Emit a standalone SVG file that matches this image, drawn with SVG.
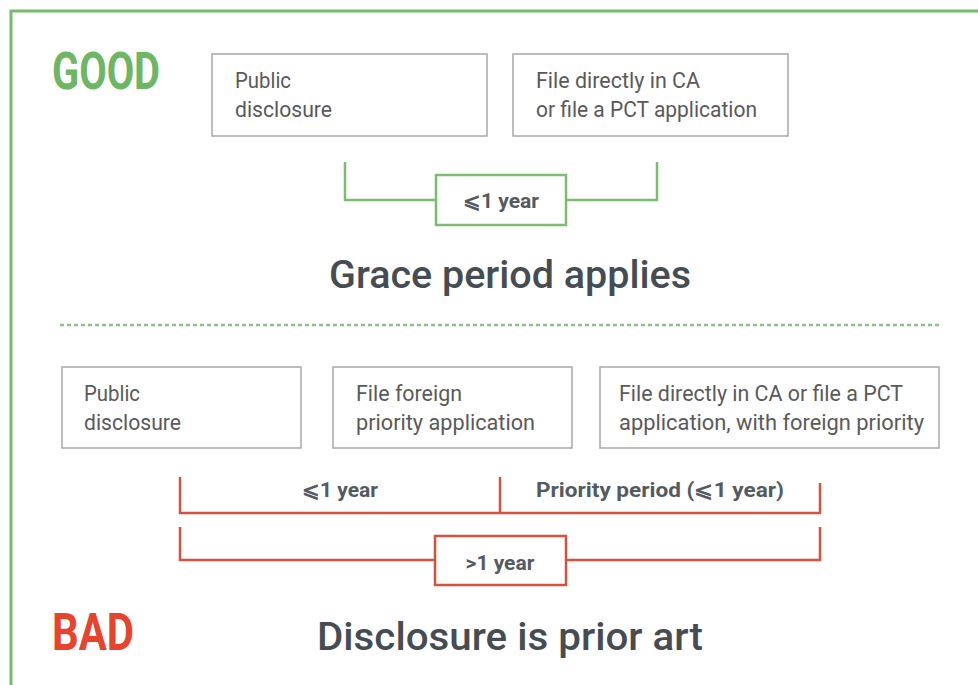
<svg xmlns="http://www.w3.org/2000/svg" width="978" height="685" viewBox="0 0 978 685">
<style>
.box{fill:#fff;stroke:#a8a8a8;stroke-width:1.5}
.bt{font-family:Roboto,"Liberation Sans",sans-serif;font-size:22px;fill:#5a5a5a}
.g{fill:none;stroke:#7cbd72;stroke-width:2.5}
.r{fill:none;stroke:#d4523f;stroke-width:2.5}
.lab{font-family:Roboto,"Liberation Sans",sans-serif;font-size:21px;font-weight:bold;fill:#545b60}
.big{font-family:Roboto,"Liberation Sans",sans-serif;font-size:38px;font-weight:500;fill:#454d53}
.tag{font-family:Roboto,"Liberation Sans",sans-serif;font-size:52px;font-weight:bold}
</style>
<rect x="0" y="0" width="978" height="685" fill="#fff"/>
<rect x="11" y="11" width="1000" height="700" fill="none" stroke="#77bb6f" stroke-width="3"/>
<g id="good-label"><text class="tag" x="52" y="89" fill="#6cb664" textLength="108" lengthAdjust="spacingAndGlyphs">GOOD</text></g>
<g id="g-disclosure"><rect class="box" x="212" y="54" width="275" height="82"/>
<text class="bt" x="235" y="88" textLength="56" lengthAdjust="spacingAndGlyphs">Public</text>
<text class="bt" x="235" y="117" textLength="97" lengthAdjust="spacingAndGlyphs">disclosure</text></g>
<g id="g-file"><rect class="box" x="513" y="54" width="275" height="82"/>
<text class="bt" x="536" y="88" textLength="164" lengthAdjust="spacingAndGlyphs">File directly in CA</text>
<text class="bt" x="536" y="117" textLength="221" lengthAdjust="spacingAndGlyphs">or file a PCT application</text></g>
<g id="connectors">
<path class="g" d="M345 162V200H436M566 200H657V162"/>
<path class="r" d="M180 477V513H820V483M500 477V513"/>
<path class="r" d="M180 527V560H435M566 560H820V527"/>
<line x1="60" y1="325" x2="940" y2="325" stroke="#8fc086" stroke-width="2.5" stroke-dasharray="4 3"/>
</g>
<g id="g-period"><rect x="436" y="175" width="130" height="50" fill="#fff" stroke="#7cbd72" stroke-width="2.5"/>
<text class="lab" x="501" y="208" text-anchor="middle">⩽1 year</text></g>
<g id="good-result"><text class="big" x="510" y="288" text-anchor="middle" textLength="362" lengthAdjust="spacingAndGlyphs">Grace period applies</text></g>
<g id="b-disclosure"><rect class="box" x="62" y="367" width="239" height="81"/>
<text class="bt" x="84" y="401" textLength="56" lengthAdjust="spacingAndGlyphs">Public</text>
<text class="bt" x="84" y="430" textLength="97" lengthAdjust="spacingAndGlyphs">disclosure</text></g>
<g id="b-foreign"><rect class="box" x="333" y="367" width="239" height="81"/>
<text class="bt" x="356" y="401" textLength="106" lengthAdjust="spacingAndGlyphs">File foreign</text>
<text class="bt" x="356" y="430" textLength="179" lengthAdjust="spacingAndGlyphs">priority application</text></g>
<g id="b-file"><rect class="box" x="600" y="367" width="339" height="81"/>
<text class="bt" x="619" y="401" textLength="284" lengthAdjust="spacingAndGlyphs">File directly in CA or file a PCT</text>
<text class="bt" x="619" y="430" textLength="305" lengthAdjust="spacingAndGlyphs">application, with foreign priority</text></g>
<g id="b-labels">
<text class="lab" x="340" y="497" text-anchor="middle">⩽1 year</text>
<text class="lab" x="660" y="497" text-anchor="middle" textLength="248" lengthAdjust="spacingAndGlyphs">Priority period (⩽1 year)</text>
</g>
<g id="b-period"><rect x="435" y="536" width="131" height="49" fill="#fff" stroke="#d4523f" stroke-width="2.5"/>
<text class="lab" x="500" y="570" text-anchor="middle">&gt;1 year</text></g>
<g id="bad-label"><text class="tag" x="52" y="650" fill="#e8432d" textLength="82" lengthAdjust="spacingAndGlyphs">BAD</text></g>
<g id="bad-result"><text class="big" x="510" y="650" text-anchor="middle" textLength="386" lengthAdjust="spacingAndGlyphs">Disclosure is prior art</text></g>
</svg>
